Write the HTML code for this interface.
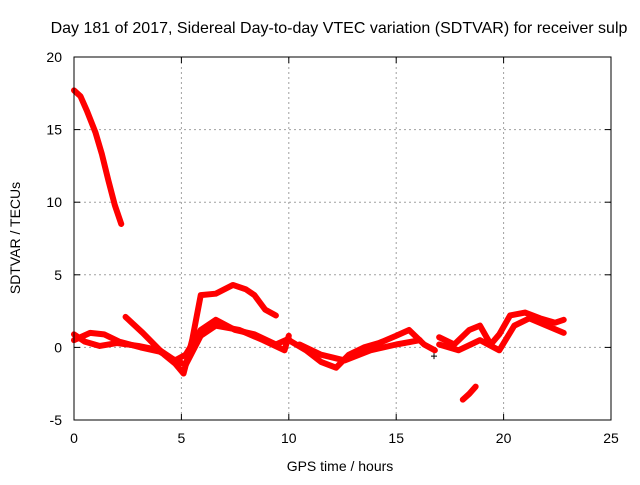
<!DOCTYPE html>
<html><head><meta charset="utf-8"><style>
body{margin:0;background:#fff}
svg text{font-family:"Liberation Sans",sans-serif;font-size:14px;fill:#000}
</style></head><body>
<svg id="chart" width="640" height="480">
<rect width="640" height="480" fill="#fff"/>
<text x="339" y="33" text-anchor="middle" style="font-size:16px">Day 181 of 2017, Sidereal Day-to-day VTEC variation (SDTVAR) for receiver sulp</text>
<g id="grid"></g><g id="series"></g><g id="axes"></g>
<text x="340" y="471" text-anchor="middle">GPS time / hours</text>
<text transform="translate(20,238) rotate(-90)" text-anchor="middle">SDTVAR / TECUs</text>
</svg>
<script>
const xTicks=[0,5,10,15,20,25];
const yTicks=[-5,0,5,10,15,20];
const trackA=[[0,17.7],[0.3,17.3],[0.6,16.3],[1.0,14.8],[1.3,13.3],[1.6,11.5],[1.9,9.8],[2.2,8.5]];
const trackB=[[2.4,2.1],[3.2,1.0],[4.2,-0.5],[4.7,-1.1],[5.1,-1.8],[5.5,0.5],[5.9,3.6],[6.6,3.7],[7.4,4.3],[8.0,4.0],[8.4,3.6],[8.9,2.6],[9.4,2.2]];
const trackC=[[0,0.5],[0.75,1.0],[1.4,0.9],[2.1,0.4],[3.1,0],[4.0,-0.3],[4.7,-0.9],[5.2,-0.5],[5.9,1.2],[6.6,1.9],[7.5,1.2],[8.4,0.9],[9.4,0.2],[10,0.6]];
const trackD=[[0,0.9],[0.5,0.4],[1.2,0.1],[2.0,0.3],[3.0,0.1],[4.0,-0.2],[4.6,-0.8],[5.2,-1.2],[5.9,0.8],[6.6,1.5],[7.7,1.2],[8.8,0.5],[9.8,-0.2],[10,0.8]];
const trackE=[[10.0,0.5],[10.8,-0.2],[11.5,-1.0],[12.2,-1.4],[12.8,-0.5],[13.5,0],[14.2,0.3],[15,0.8],[15.6,1.2],[16.3,0.2],[16.8,-0.2]];
const trackF=[[10.5,0.2],[11.5,-0.5],[12.6,-0.9],[13.8,-0.2],[15,0.2],[16.1,0.5]];
const trackG=[[17,0.7],[17.7,0.2],[18.4,1.2],[18.9,1.5],[19.4,0.2],[19.8,0.9],[20.3,2.2],[21,2.4],[21.7,2.0],[22.4,1.7],[22.8,1.9]];
const trackH=[[17,0.2],[17.9,-0.2],[18.9,0.5],[19.8,-0.2],[20.5,1.5],[21.2,2.0],[22,1.5],[22.8,1.0]];
const trackI=[[18.1,-3.6],[18.4,-3.2],[18.7,-2.7]];
const tracks=[trackA,trackB,trackC,trackD,trackE,trackF,trackG,trackH,trackI];
const outlier=[16.76,-0.6];
const X=v=>74+v*(611-74)/25, Y=v=>420-(v+5)*(420-57)/25;
const NS="http://www.w3.org/2000/svg";
function mk(t,a,p){const e=document.createElementNS(NS,t);for(const k in a)e.setAttribute(k,a[k]);p.appendChild(e);return e;}
const grid=document.getElementById('grid'),axes=document.getElementById('axes'),ser=document.getElementById('series');
xTicks.forEach(t=>{
 if(t>0&&t<25){const l=mk('line',{x1:X(t),x2:X(t),y1:57,y2:420,stroke:'#a0a0a0','stroke-dasharray':'2,3'},grid);
 
 }
 const tx=mk('text',{x:X(t),y:443,'text-anchor':'middle'},axes);tx.textContent=t;
 
 
 mk('line',{x1:X(t),x2:X(t),y1:420,y2:414,stroke:'#000'},axes);mk('line',{x1:X(t),x2:X(t),y1:57,y2:63,stroke:'#000'},axes);
});
yTicks.forEach(t=>{
 if(t>-5&&t<20){const l=mk('line',{x1:74,x2:611,y1:Y(t),y2:Y(t),stroke:'#a0a0a0','stroke-dasharray':'2,3'},grid);
 
 }
 const tx=mk('text',{x:62,y:Y(t)+5,'text-anchor':'end'},axes);tx.textContent=t;
 
 
 mk('line',{x1:74,x2:80,y1:Y(t),y2:Y(t),stroke:'#000'},axes);mk('line',{x1:605,x2:611,y1:Y(t),y2:Y(t),stroke:'#000'},axes);
});
const fr=mk('rect',{x:74,y:57,width:537,height:363,fill:'none',stroke:'#000'},axes);


tracks.forEach(tr=>{
 const p=mk('polyline',{points:tr.map(d=>X(d[0])+','+Y(d[1])).join(' '),fill:'none',stroke:'#f00','stroke-width':6,'stroke-linejoin':'round','stroke-linecap':'round'},ser);
 
 
});
const o=mk('path',{d:`M${X(outlier[0])-3},${Y(outlier[1])}h6M${X(outlier[0])},${Y(outlier[1])-3}v6`,stroke:'#000','stroke-width':1},ser);


</script>
</body></html>
